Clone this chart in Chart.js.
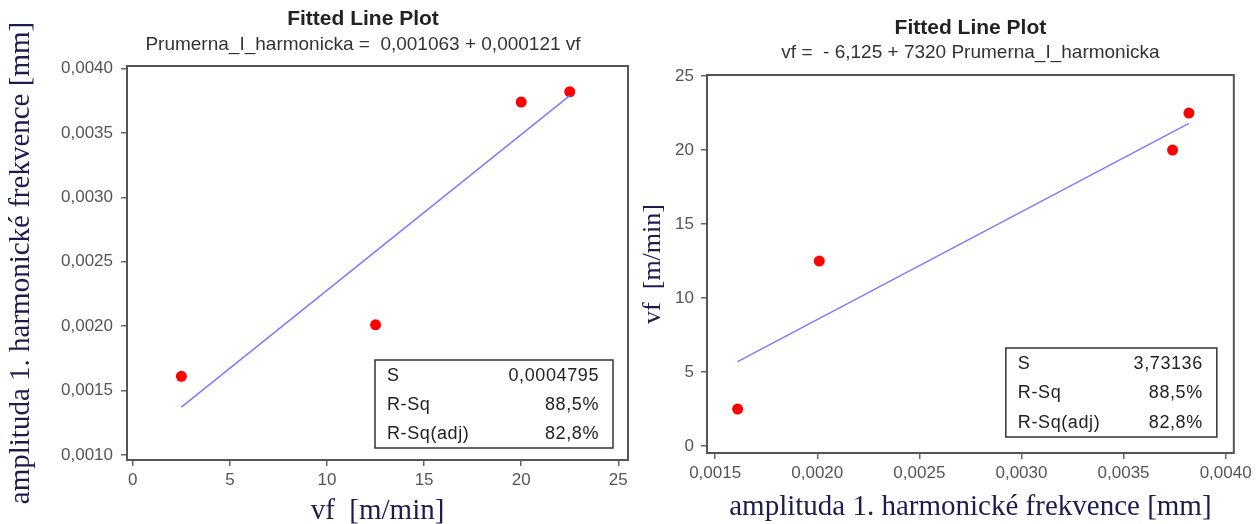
<!DOCTYPE html>
<html>
<head>
<meta charset="utf-8">
<title>Fitted Line Plot</title>
<script src="https://cdn.jsdelivr.net/npm/chart.js@4.4.0/dist/chart.umd.min.js"></script>
<style>
  html, body { margin: 0; padding: 0; background: #fff; }
  body { width: 1256px; height: 524px; position: relative; overflow: hidden; }
  canvas { position: absolute; top: 0; }
  #left-chart { left: 0; }
  #right-chart { left: 630px; }
</style>
</head>
<body>
<canvas id="left-chart" width="726" height="524"></canvas>
<canvas id="right-chart" width="626" height="524"></canvas>
<script>
const feedRates = [2.5, 12.5, 20, 22.5];                   // vf [m/min]
const amplitudes = [0.00161, 0.00201, 0.00374, 0.00382];   // amplitude [mm]

// Fitted line end points
const leftFitX = [2.5, 22.5];
const leftFitY = [0.00137, 0.00379];
const rightFitX = [0.00161, 0.00382];
const rightFitY = [5.7, 21.8];

// Tick values
const leftXTicks = [0, 5, 10, 15, 20, 25];
const leftYTicks = [0.001, 0.0015, 0.002, 0.0025, 0.003, 0.0035, 0.004];
const rightXTicks = [0.0015, 0.002, 0.0025, 0.003, 0.0035, 0.004];
const rightYTicks = [0, 5, 10, 15, 20, 25];

// Summary boxes
const statNames = ['S', 'R-Sq', 'R-Sq(adj)'];
const leftStats = ['0,0004795', '88,5%', '82,8%'];
const rightStats = ['3,73136', '88,5%', '82,8%'];

const SANS = '"Liberation Sans", Arial, sans-serif';
const SERIF = '"Liberation Serif", "Times New Roman", serif';
const AXIS_TITLE_COLOR = '#1c1c4e';

// comma as decimal separator
function fmt4(v) { return v.toFixed(4).replace('.', ','); }
function fmt0(v) { return String(v); }

// Frame round the plot area, drawn under the points
const framePlugin = {
    id: 'frame',
    beforeDatasetsDraw(chart) {
        const { ctx, chartArea: a } = chart;
        ctx.save();
        ctx.strokeStyle = '#555';
        ctx.lineWidth = 2;
        ctx.strokeRect(a.left, a.top, a.right - a.left, a.bottom - a.top);
        ctx.restore();
    }
};

// S / R-Sq box in the lower right corner
const statsBoxPlugin = {
    id: 'statsBox',
    afterDatasetsDraw(chart, args, opts) {
        const { ctx, chartArea: a } = chart;
        const x1 = a.right - opts.right;
        const x0 = x1 - opts.width;
        const y1 = a.bottom - opts.bottom;
        const y0 = y1 - opts.height;
        ctx.save();
        ctx.fillStyle = '#fff';
        ctx.fillRect(x0, y0, opts.width, opts.height);
        ctx.strokeStyle = '#333';
        ctx.lineWidth = 1.5;
        ctx.strokeRect(x0, y0, opts.width, opts.height);
        ctx.font = '18px ' + SANS;
        ctx.letterSpacing = '0.6px';
        ctx.fillStyle = '#222';
        ctx.textBaseline = 'middle';
        const rowH = opts.height / opts.names.length;
        opts.names.forEach((name, i) => {
            const y = y0 + rowH * (i + 0.5) + 1;
            ctx.textAlign = 'left';
            ctx.fillText(name, x0 + 12, y);
            ctx.textAlign = 'right';
            ctx.fillText(opts.values[i], x1 - 14, y);
        });
        ctx.restore();
    }
};

// Build one linear axis
function makeAxis(tickValues, min, max, format, titleText, titleSize, titlePadding, fitSize, tickPad) {
    return {
        type: 'linear',
        min: min,
        max: max,
        afterBuildTicks: scale => {
            scale.ticks = tickValues.map(v => ({ value: v }));
        },
        afterFit: scale => {
            if (scale.isHorizontal()) {
                scale.height = fitSize;
            } else {
                scale.width = fitSize;
            }
        },
        ticks: {
            callback: v => format(v),
            color: '#555',
            font: { family: SANS, size: 17 },
            padding: tickPad
        },
        grid: {
            drawOnChartArea: false,
            drawTicks: true,
            tickLength: 6,
            color: '#666',
            lineWidth: 1.5
        },
        border: { display: false },
        title: {
            display: true,
            text: titleText,
            color: AXIS_TITLE_COLOR,
            font: { family: SERIF, size: titleSize },
            padding: titlePadding
        }
    };
}

// Empty right-hand axis, only keeps room so the titles centre like the original
function spacerAxis(width) {
    return {
        type: 'linear',
        position: 'right',
        display: true,
        ticks: { display: false },
        grid: { display: false },
        border: { display: false },
        afterFit: scale => { scale.width = width; }
    };
}

function makeChart(id, cfg) {
    const ctx = document.getElementById(id).getContext('2d');
    const scales = { x: cfg.x, y: cfg.y };
    if (cfg.spacer) {
        scales.spacer = spacerAxis(cfg.spacer);
    }
    return new Chart(ctx, {
        type: 'scatter',
        data: {
            datasets: [{
                label: 'Fit',
                data: cfg.fitX.map((x, i) => ({ x: x, y: cfg.fitY[i] })),
                showLine: true,
                borderColor: '#7b7bff',
                borderWidth: 1.5,
                pointRadius: 0,
                fill: false
            }, {
                label: 'Data',
                data: cfg.px.map((x, i) => ({ x: x, y: cfg.py[i] })),
                backgroundColor: '#ff0000',
                borderWidth: 0,
                pointRadius: 5.5
            }]
        },
        options: {
            responsive: false,
            animation: false,
            events: [],
            layout: { padding: cfg.layoutPadding },
            plugins: {
                legend: { display: false },
                tooltip: { enabled: false },
                title: {
                    display: true,
                    text: 'Fitted Line Plot',
                    color: '#222',
                    font: { family: SANS, size: 21, weight: 'bold' },
                    fullSize: cfg.titleFullSize,
                    padding: cfg.titlePadding
                },
                subtitle: {
                    display: true,
                    text: cfg.subtitle,
                    color: '#333',
                    font: { family: SANS, size: 19 },
                    fullSize: cfg.titleFullSize,
                    padding: cfg.subtitlePadding
                },
                statsBox: cfg.stats
            },
            scales: scales
        },
        plugins: [framePlugin, statsBoxPlugin]
    });
}

// Left: amplitude against feed rate
makeChart('left-chart', {
    px: feedRates,
    py: amplitudes,
    fitX: leftFitX,
    fitY: leftFitY,
    subtitle: 'Prumerna_I_harmonicka =  0,001063 + 0,000121 vf',
    titleFullSize: true,
    titlePadding: { top: 7, bottom: 1 },
    subtitlePadding: { top: 0, bottom: 10 },
    layoutPadding: { top: 0, left: 0, right: 0, bottom: 0 },
    spacer: 98,
    x: makeAxis(leftXTicks, -0.3, 25.5, fmt0, 'vf  [m/min]', 29, { top: 0, bottom: -5 }, 64, 4),
    y: makeAxis(leftYTicks, 0.00096, 0.00402, fmt4, 'amplituda 1. harmonické frekvence [mm]', 29, { top: 4, bottom: 0 }, 127, 8),
    stats: { names: statNames, values: leftStats, width: 238, height: 88, right: 15, bottom: 12 }
});

// Right: feed rate against amplitude
makeChart('right-chart', {
    px: amplitudes,
    py: feedRates,
    fitX: rightFitX,
    fitY: rightFitY,
    subtitle: 'vf =  - 6,125 + 7320 Prumerna_I_harmonicka',
    titleFullSize: false,
    titlePadding: { top: 16, bottom: 0 },
    subtitlePadding: { top: 0, bottom: 11 },
    layoutPadding: { top: 0, left: 0, right: 16, bottom: 0 },
    x: makeAxis(rightXTicks, 0.00146, 0.00404, fmt4, 'amplituda 1. harmonické frekvence [mm]', 29, { top: 0, bottom: -1 }, 71, 4),
    y: makeAxis(rightYTicks, -0.47, 25.07, fmt0, 'vf  [m/min]', 26, { top: 8, bottom: 0 }, 77, 7),
    stats: { names: statNames, values: rightStats, width: 211, height: 89, right: 17, bottom: 16 }
});
</script>
</body>
</html>
